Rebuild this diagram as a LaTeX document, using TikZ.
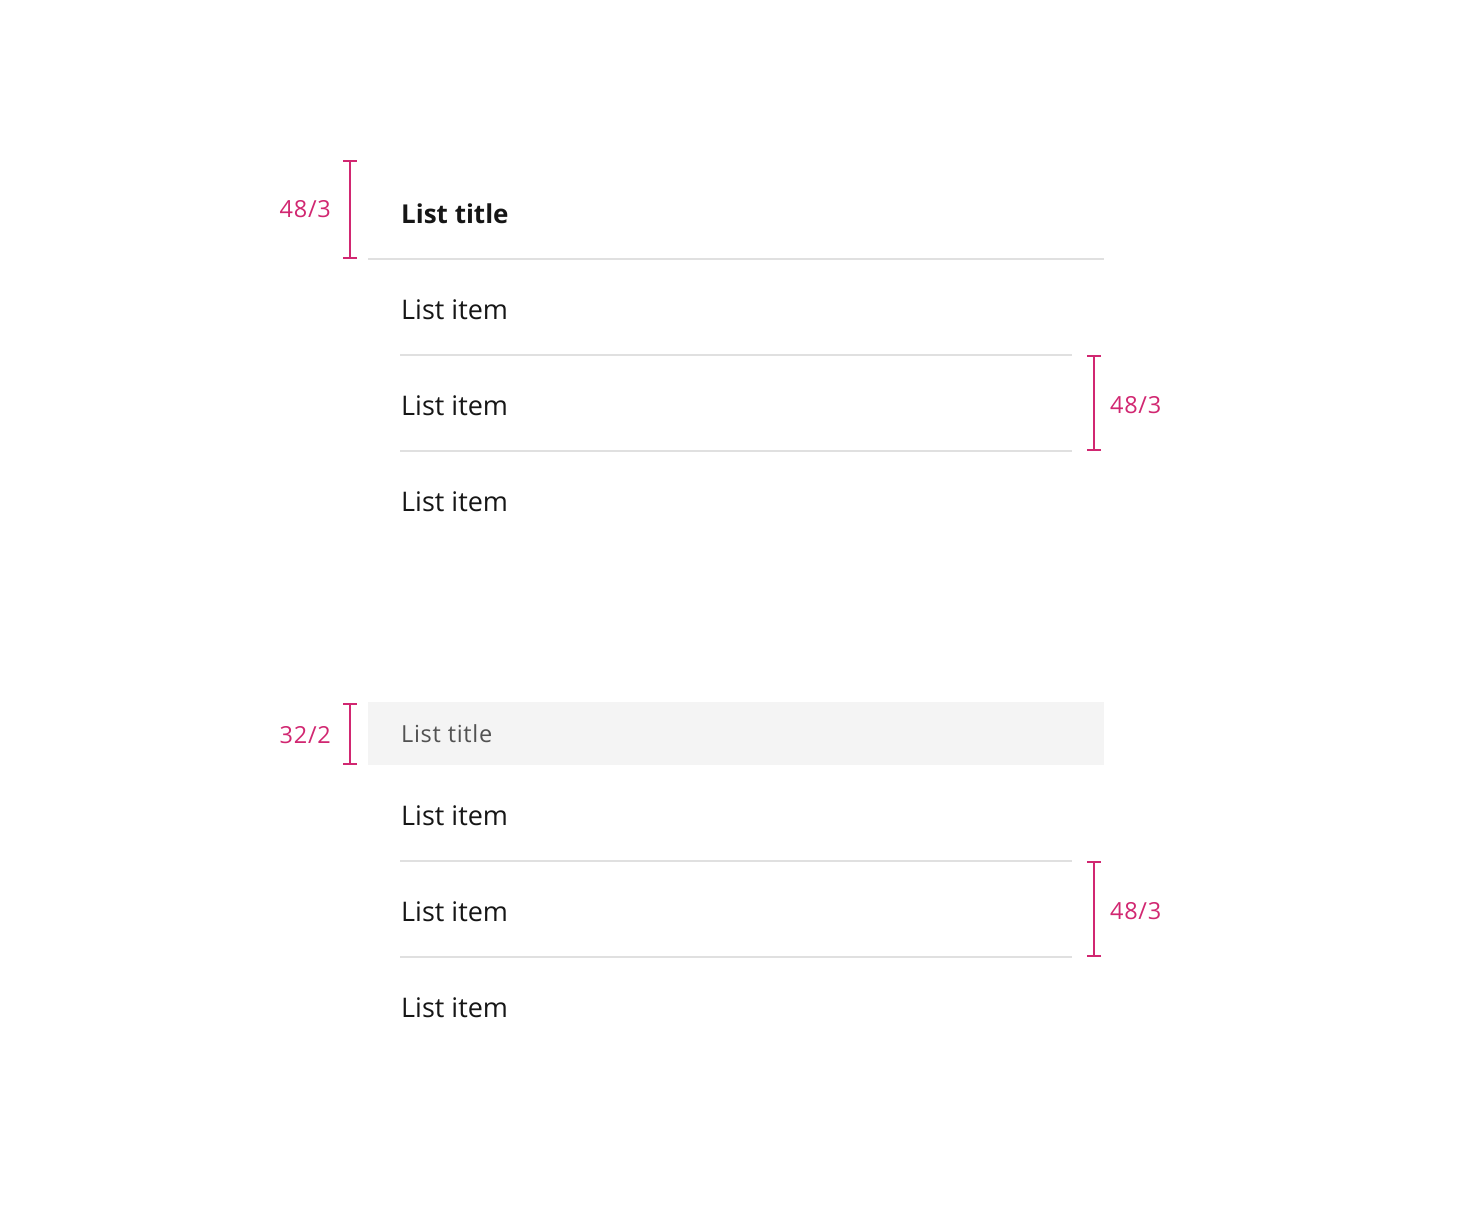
\documentclass[tikz,border=0pt]{standalone}
\usepackage{fontspec}
\setmainfont{Open Sans}
\usepackage{xcolor}
\usetikzlibrary{arrows.meta, positioning}
\definecolor{specpink}{HTML}{D12771}
\definecolor{rulegray}{HTML}{E0E0E0}
\definecolor{headfill}{HTML}{F4F4F4}
\definecolor{itemtext}{HTML}{161616}
\definecolor{subtext}{HTML}{525252}

\begin{document}
\begin{tikzpicture}[
    x=1pt, y=-1pt,
    item/.style={anchor=base west, inner sep=0pt, text=itemtext,
                 font=\fontsize{27}{31}\selectfont},
    title/.style={item, font=\fontsize{26}{30}\selectfont\bfseries},
    subtitle/.style={anchor=base west, inner sep=0pt, text=subtext,
                     font=\fontsize{23.5}{27}\selectfont\addfontfeatures{LetterSpace=3}},
    divider/.style={draw=rulegray, line width=2pt},
    spec/.style={{Bar[width=14pt]}-{Bar[width=14pt]}, draw=specpink, line width=2pt},
    speclabel/.style={inner sep=0pt, text=specpink,
                      font=\fontsize{23.5}{27}\selectfont\addfontfeatures{LetterSpace=3}}
]
    \useasboundingbox (0,0) rectangle (1472,1216);

    % Upper list: bold title
    \node[title] (title1) at (401,223) {List title};
    \coordinate (t1a) at (368,259);
    \coordinate (t1b) at (1104,259);
    \draw[divider] (t1a) -- (t1b);

    \node[item] (a1) at (401,319) {List item};
    \coordinate (a1l) at (400,355);
    \coordinate (a1r) at (1072,355);
    \draw[divider] (a1l) -- (a1r);

    \node[item] (a2) at (401,415) {List item};
    \coordinate (a2l) at (400,451);
    \coordinate (a2r) at (1072,451);
    \draw[divider] (a2l) -- (a2r);

    \node[item] (a3) at (401,511) {List item};

    % Upper list: measurements
    \coordinate (m1t) at (350,160);
    \coordinate (m1b) at (350,259);
    \draw[spec] (m1t) -- (m1b);
    \node[speclabel, anchor=east] (m1) at (331,209) {48/3};

    \coordinate (m2t) at (1094,355);
    \coordinate (m2b) at (1094,451);
    \draw[spec] (m2t) -- (m2b);
    \node[speclabel, anchor=west] (m2) at (1110,405) {48/3};

    % Lower list: shaded header
    \fill[headfill] (368,702) rectangle (1104,765);
    \node[subtitle] (title2) at (401,742) {List title};

    \node[item] (b1) at (401,825) {List item};
    \coordinate (b1l) at (400,861);
    \coordinate (b1r) at (1072,861);
    \draw[divider] (b1l) -- (b1r);

    \node[item] (b2) at (401,921) {List item};
    \coordinate (b2l) at (400,957);
    \coordinate (b2r) at (1072,957);
    \draw[divider] (b2l) -- (b2r);

    \node[item] (b3) at (401,1017) {List item};

    % Lower list: measurements
    \coordinate (m3t) at (350,703);
    \coordinate (m3b) at (350,765);
    \draw[spec] (m3t) -- (m3b);
    \node[speclabel, anchor=east] (m3) at (331,735) {32/2};

    \coordinate (m4t) at (1094,861);
    \coordinate (m4b) at (1094,957);
    \draw[spec] (m4t) -- (m4b);
    \node[speclabel, anchor=west] (m4) at (1110,911) {48/3};
\end{tikzpicture}
\end{document}
